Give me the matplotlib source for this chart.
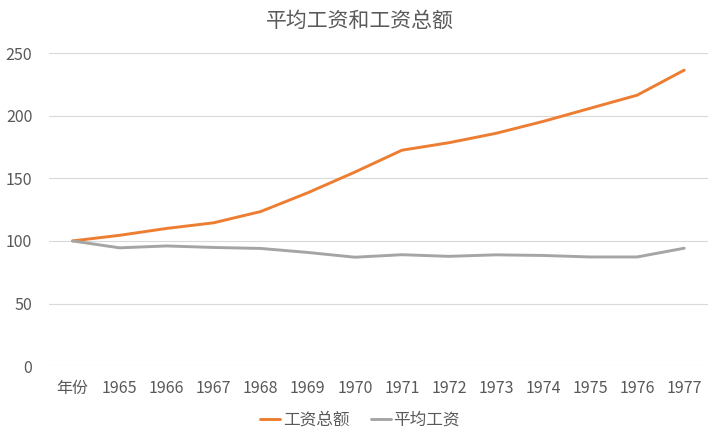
import matplotlib
matplotlib.use("Agg")
import matplotlib.pyplot as plt

plt.rcParams['font.family'] = ['Noto Sans CJK SC', 'DejaVu Sans']

categories = ["年份", "1965", "1966", "1967", "1968", "1969", "1970", "1971",
              "1972", "1973", "1974", "1975", "1976", "1977"]
total_wage = [100, 104.5, 110, 114.5, 123.5, 138.5, 155, 172.5, 178.5, 186, 195.5, 206, 216.5, 236.5]
avg_wage = [100, 94.5, 96, 94.8, 94, 90.8, 87, 89, 87.7, 88.9, 88.4, 87.2, 87.2, 94.2]
series_names = ["工资总额", "平均工资"]
title = "平均工资和工资总额"

fig = plt.figure(figsize=(7.2, 4.4), dpi=100)
ax = fig.add_axes([0.068, 0.168, 0.915, 0.711])
x = list(range(len(categories)))
ax.plot(x, total_wage, color="#ED7D31", lw=2.1, label=series_names[0], solid_capstyle="round")
ax.plot(x, avg_wage, color="#A5A5A5", lw=2.1, label=series_names[1], solid_capstyle="round")

ax.set_xlim(-0.5, len(categories) - 0.5)
ax.set_ylim(0, 250)
ax.set_yticks([0, 50, 100, 150, 200, 250])
ax.set_xticks(x)
ax.set_xticklabels(categories)
ax.grid(axis="y", color="#D9D9D9", lw=0.8)
ax.set_axisbelow(True)
for s in ax.spines.values():
    s.set_visible(False)
ax.tick_params(axis="both", length=0, labelsize=11.5, colors="#595959")
ax.tick_params(axis="x", pad=10)
ax.tick_params(axis="y", pad=12)

fig.suptitle(title, y=0.978, fontsize=15, color="#595959")
fig.legend(loc="center", bbox_to_anchor=(0.5, 0.045), ncol=2, frameon=False,
           fontsize=12, labelcolor="#595959", handlelength=1.2, handletextpad=0.15,
           columnspacing=1.3)
fig.savefig("out.png", dpi=100, facecolor="white")
